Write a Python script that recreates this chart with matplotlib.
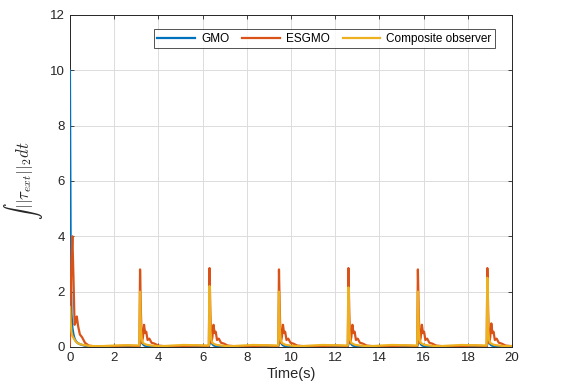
import numpy as np
import matplotlib
matplotlib.use("Agg")
import matplotlib.pyplot as plt

plt.rcParams["font.family"] = ["Liberation Sans", "DejaVu Sans"]
plt.rcParams["mathtext.fontset"] = "cm"

# Disturbance pulses start at multiples of pi; samples taken at onset + offset
pulse_onsets = [0.0, 3.1416, 6.2832, 9.4248, 12.5664, 15.7080, 18.8496]
pulse_offsets = [-0.02, 0.0, 0.03, 0.07, 0.11, 0.16, 0.21, 0.26, 0.31,
                 0.37, 0.45, 0.55, 0.68, 0.85, 1.1, 1.5, 2.0, 2.6]

gmo_values = [
    [10.0, 10.0, 4.0, 1.2, 0.7, 0.45, 0.3, 0.22, 0.17, 0.13, 0.1, 0.07, 0.04, 0.02, 0.01, 0.02, 0.03, 0.03],
    [0.02, 0.02, 0.1, 0.3, 0.2, 0.1, 0.06, 0.04, 0.03, 0.02, 0.02, 0.02, 0.02, 0.02, 0.02, 0.02, 0.03, 0.03],
    [0.02, 0.02, 0.1, 0.3, 0.2, 0.1, 0.06, 0.04, 0.03, 0.02, 0.02, 0.02, 0.02, 0.02, 0.02, 0.02, 0.03, 0.03],
    [0.02, 0.02, 0.1, 0.3, 0.2, 0.1, 0.06, 0.04, 0.03, 0.02, 0.02, 0.02, 0.02, 0.02, 0.02, 0.02, 0.03, 0.03],
    [0.02, 0.02, 0.1, 0.3, 0.2, 0.1, 0.06, 0.04, 0.03, 0.02, 0.02, 0.02, 0.02, 0.02, 0.02, 0.02, 0.03, 0.03],
    [0.02, 0.02, 0.1, 0.3, 0.2, 0.1, 0.06, 0.04, 0.03, 0.02, 0.02, 0.02, 0.02, 0.02, 0.02, 0.02, 0.03, 0.03],
    [0.02, 0.02, 0.1, 0.3, 0.2, 0.1, 0.06, 0.04, 0.03, 0.02, 0.02, 0.02, 0.02, 0.02, 0.02, 0.02, 0.03, 0.03],
]

esgmo_values = [
    [0.0, 0.2, 1.5, 3.2, 4.0, 2.5, 0.8, 0.9, 1.1, 0.75, 0.45, 0.35, 0.15, 0.05, 0.02, 0.02, 0.03, 0.05],
    [0.03, 0.05, 2.8, 1.2, 0.15, 0.35, 0.8, 0.5, 0.55, 0.25, 0.3, 0.15, 0.12, 0.05, 0.03, 0.02, 0.03, 0.05],
    [0.03, 0.05, 2.85, 1.2, 0.15, 0.35, 0.8, 0.5, 0.55, 0.25, 0.3, 0.15, 0.12, 0.05, 0.03, 0.02, 0.03, 0.05],
    [0.03, 0.05, 2.8, 1.2, 0.15, 0.35, 0.8, 0.5, 0.55, 0.25, 0.3, 0.15, 0.12, 0.05, 0.03, 0.02, 0.03, 0.05],
    [0.03, 0.05, 2.85, 1.2, 0.15, 0.35, 0.8, 0.5, 0.55, 0.25, 0.3, 0.15, 0.12, 0.05, 0.03, 0.02, 0.03, 0.05],
    [0.03, 0.05, 2.8, 1.2, 0.15, 0.35, 0.8, 0.5, 0.55, 0.25, 0.3, 0.15, 0.12, 0.05, 0.03, 0.02, 0.03, 0.05],
    [0.03, 0.05, 2.85, 1.2, 0.15, 0.35, 0.85, 0.5, 0.55, 0.25, 0.3, 0.15, 0.12, 0.05, 0.03, 0.02, 0.03, 0.05],
]

composite_values = [
    [1.45, 1.45, 0.9, 0.55, 0.4, 0.33, 0.26, 0.2, 0.16, 0.13, 0.1, 0.08, 0.06, 0.04, 0.03, 0.03, 0.05, 0.06],
    [0.05, 0.06, 2.0, 0.6, 0.25, 0.15, 0.12, 0.1, 0.08, 0.07, 0.06, 0.05, 0.04, 0.03, 0.03, 0.05, 0.07, 0.06],
    [0.05, 0.06, 2.2, 0.6, 0.25, 0.15, 0.12, 0.1, 0.08, 0.07, 0.06, 0.05, 0.04, 0.03, 0.03, 0.05, 0.07, 0.06],
    [0.05, 0.06, 2.0, 0.6, 0.25, 0.15, 0.12, 0.1, 0.08, 0.07, 0.06, 0.05, 0.04, 0.03, 0.03, 0.05, 0.07, 0.06],
    [0.05, 0.06, 2.15, 0.6, 0.25, 0.15, 0.12, 0.1, 0.08, 0.07, 0.06, 0.05, 0.04, 0.03, 0.03, 0.05, 0.07, 0.06],
    [0.05, 0.06, 2.0, 0.6, 0.25, 0.15, 0.12, 0.1, 0.08, 0.07, 0.06, 0.05, 0.04, 0.03, 0.03, 0.05, 0.07, 0.06],
    [0.05, 0.06, 2.5, 0.6, 0.25, 0.15, 0.12, 0.1, 0.08, 0.07, 0.06, 0.05, 0.04, 0.03, 0.03, 0.05, 0.07, 0.06],
]

series_labels = ["GMO", "ESGMO", "Composite observer"]
series_colors = ["#0072BD", "#D95319", "#EDB120"]

time_s = np.concatenate([t0 + np.array(pulse_offsets) for t0 in pulse_onsets])

fig = plt.figure(figsize=(5.64, 3.92), dpi=100)
ax = fig.add_axes([0.124, 0.115, 0.784, 0.847])

for values, label, color in zip([gmo_values, esgmo_values, composite_values],
                                series_labels, series_colors):
    ax.plot(time_s, np.concatenate(values), color=color, lw=1.6, label=label,
            zorder=3)

ax.set_xlim(0, 20)
ax.set_ylim(0, 12)
ax.set_xticks(np.arange(0, 21, 2))
ax.set_yticks(np.arange(0, 13, 2))
ax.grid(True, color="#dcdcdc", lw=0.7)
ax.set_axisbelow(True)
ax.tick_params(direction="in", top=True, right=True, labelsize=9.5, length=3,
               color="#262626", width=0.6, labelcolor="#262626")
for sp in ax.spines.values():
    sp.set_color("#262626")
    sp.set_linewidth(0.7)

ax.set_xlabel("Time(s)", fontsize=10.5, labelpad=2, color="#262626")
ax.set_ylabel(r"$\int\,||\tau_{ext}||_2 dt$", fontsize=12, color="#262626",
              labelpad=4)

leg = ax.legend(loc="upper right", ncol=3, fontsize=8.5, frameon=True,
                fancybox=False, edgecolor="#262626", handlelength=3.2,
                columnspacing=1.1, handletextpad=0.5, borderpad=0.3,
                bbox_to_anchor=(0.975, 0.975))
leg.get_frame().set_linewidth(0.7)

fig.savefig("out.png", dpi=100)
